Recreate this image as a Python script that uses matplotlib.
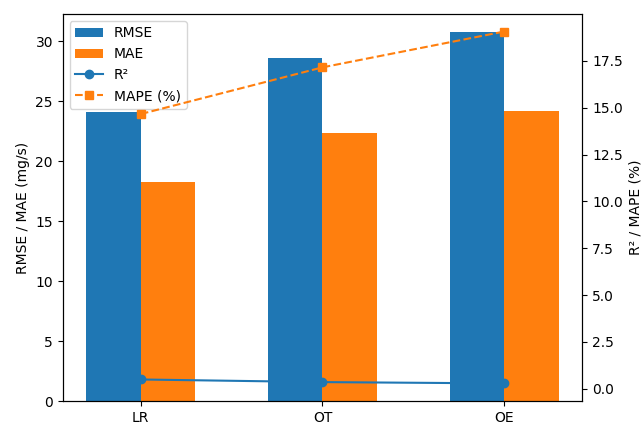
import numpy as np
import matplotlib
matplotlib.use("Agg")
import matplotlib.pyplot as plt

models = ["LR", "OT", "OE"]
rmse = [24.1, 28.65, 30.75]
mae = [18.3, 22.35, 24.2]
r2 = [0.50, 0.36, 0.29]
mape = [14.66, 17.15, 19.06]

x = np.arange(len(models))
width = 0.3

fig = plt.figure(figsize=(6.43, 4.23), dpi=100)
ax1 = fig.add_axes([0.0975, 0.052, 0.808, 0.915])
ax2 = ax1.twinx()

b1 = ax1.bar(x - width / 2, rmse, width, label="RMSE", color="C0")
b2 = ax1.bar(x + width / 2, mae, width, label="MAE", color="C1")
ax1.set_ylabel("RMSE / MAE (mg/s)")
ax1.set_xticks(x)
ax1.set_xticklabels(models)

l1, = ax2.plot(x, r2, marker="o", color="C0", label="R²")
l2, = ax2.plot(x, mape, marker="s", linestyle="--", color="C1", label="MAPE (%)")
ax2.set_ylabel("R² / MAPE (%)")

handles = [b1, b2, l1, l2]
ax1.legend(handles, [h.get_label() for h in handles], loc="upper left")

plt.savefig("out.png", dpi=100)
